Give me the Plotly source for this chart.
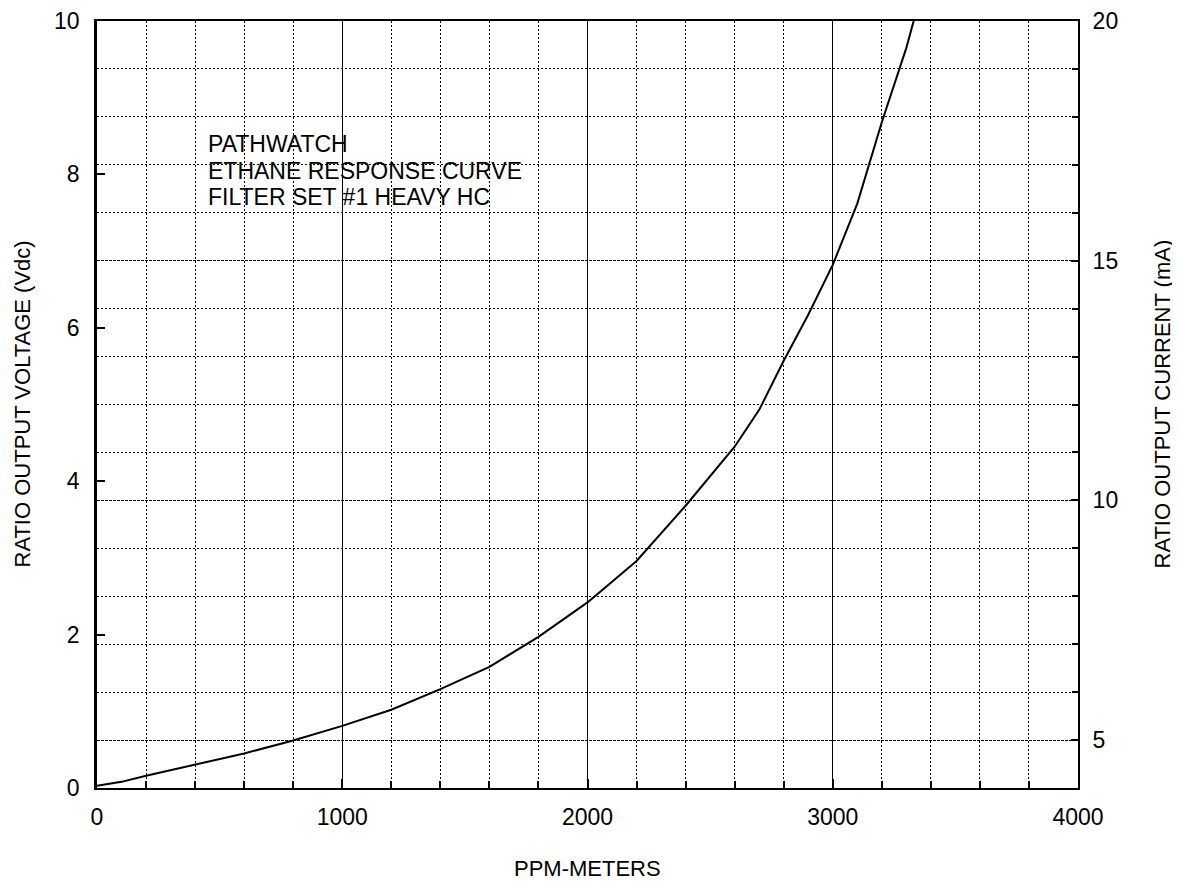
import plotly.graph_objects as go

# Data
ppm = [0, 100, 200, 400, 600, 800, 1000, 1200, 1400, 1600, 1800, 2000, 2200,
       2400, 2600, 2700, 2800, 2900, 3000, 3100, 3200, 3300, 3330]
volts = [0.03, 0.08, 0.16, 0.30, 0.45, 0.62, 0.81, 1.02, 1.29, 1.58, 1.97, 2.42, 2.96,
         3.68, 4.45, 4.93, 5.57, 6.17, 6.82, 7.62, 8.68, 9.65, 10.0]

x_ticks = [0, 1000, 2000, 3000, 4000]
v_ticks = [0, 2, 4, 6, 8, 10]
ma_ticks = [5, 10, 15, 20]
note_lines = ["PATHWATCH", "ETHANE RESPONSE CURVE", "FILTER SET #1 HEAVY HC"]
note_x = 444
note_y = [8.40, 8.05, 7.70]
x_title = "PPM-METERS"
y_title = "RATIO OUTPUT VOLTAGE (Vdc)"
y2_title = "RATIO OUTPUT CURRENT (mA)"

FONT = "Liberation Sans, Arial, Helvetica, sans-serif"

fig = go.Figure()
fig.add_trace(go.Scatter(x=ppm, y=volts, mode="lines",
                         line=dict(color="black", width=2),
                         showlegend=False, hoverinfo="skip"))
# invisible trace to activate the right-hand mA axis
fig.add_trace(go.Scatter(x=[0], y=[4], yaxis="y2", mode="markers",
                         marker=dict(opacity=0), showlegend=False, hoverinfo="skip"))

for txt, yy in zip(note_lines, note_y):
    fig.add_annotation(x=note_x, y=yy, xref="x", yref="y", text=txt,
                       showarrow=False, xanchor="left", yanchor="middle",
                       font=dict(family=FONT, size=23, color="black"))

# axis titles
fig.add_annotation(x=0.5, y=0, xref="paper", yref="paper", text=x_title,
                   showarrow=False, xanchor="center", yanchor="middle", yshift=-80,
                   font=dict(family=FONT, size=22, color="black"))
fig.add_annotation(x=0, y=0.5, xref="paper", yref="paper", text=y_title,
                   showarrow=False, xanchor="center", yanchor="middle", xshift=-75,
                   textangle=-90, font=dict(family=FONT, size=22, color="black"))
fig.add_annotation(x=1, y=0.5, xref="paper", yref="paper", text=y2_title,
                   showarrow=False, xanchor="center", yanchor="middle", xshift=84,
                   textangle=-90, font=dict(family=FONT, size=22, color="black"))

fig.update_layout(
    width=1172, height=874,
    margin=dict(l=89, r=102, t=13, b=94),
    paper_bgcolor="white", plot_bgcolor="white",
    font=dict(family=FONT, size=22, color="black"),
    showlegend=False,
    xaxis=dict(
        range=[0, 4000], tickvals=x_ticks, ticktext=[str(v) for v in x_ticks],
        showgrid=True, gridcolor="black", gridwidth=1.3,
        ticks="inside", ticklen=9, tickwidth=2, tickcolor="black",
        minor=dict(dtick=200, tick0=0, showgrid=True, gridcolor="black",
                   gridwidth=1, griddash="2px,2px", ticks="inside",
                   ticklen=7, tickwidth=2, tickcolor="black"),
        showline=True, linewidth=2, linecolor="black", mirror=True,
        zeroline=False, ticklabelstandoff=7, automargin=False,
        ticklabeloverflow="allow", tickfont=dict(size=23),
    ),
    yaxis=dict(
        range=[0, 10], tickvals=v_ticks, showgrid=False,
        ticks="inside", ticklen=8, tickwidth=2, tickcolor="black",
        showline=True, linewidth=2.5, linecolor="black",
        zeroline=False, ticklabelstandoff=10, automargin=False,
        ticklabeloverflow="allow", tickfont=dict(size=23),
    ),
    yaxis2=dict(
        range=[4, 20], tickvals=ma_ticks, overlaying="y", side="right",
        showgrid=True, gridcolor="black", gridwidth=1, griddash="1px,1px",
        ticks="inside", ticklen=7, tickwidth=2, tickcolor="black",
        minor=dict(dtick=1, tick0=4, showgrid=True, gridcolor="black",
                   gridwidth=1, griddash="2px,2px", ticks="inside",
                   ticklen=6, tickwidth=2, tickcolor="black"),
        showline=True, linewidth=2, linecolor="black",
        zeroline=False, ticklabelstandoff=8, automargin=False,
        ticklabeloverflow="allow", tickfont=dict(size=23),
    ),
)

fig.write_html("out.html")
